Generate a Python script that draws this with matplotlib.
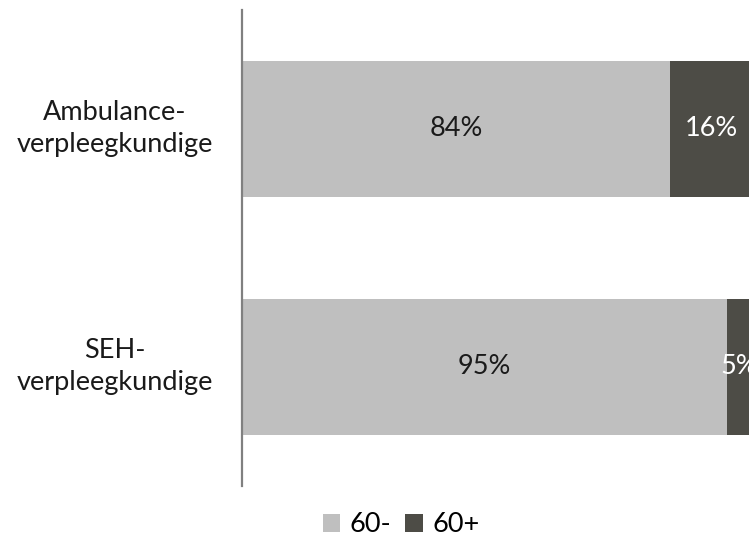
import matplotlib
matplotlib.use("Agg")
import matplotlib.pyplot as plt
import matplotlib.transforms as mtransforms
import numpy as np

# ==============================
# Data
# ==============================
categories = ["Ambulance-\nverpleegkundige", "SEH-\nverpleegkundige"]
under_60 = [84, 95]
over_60 = [16, 5]
series_labels = ["60-", "60+"]

COLOR_LIGHT = "#bfbfbf"
COLOR_DARK = "#4d4c46"
FS = 19.5

plt.rcParams["font.family"] = ["Lato", "DejaVu Sans"]

fig = plt.figure(figsize=(7.49, 5.37), dpi=100)
ax = fig.add_axes([242 / 749, 1 - 486 / 537, 510 / 749, 476 / 537])

y = np.arange(len(categories))
bar_h = 0.57

b1 = ax.barh(y, under_60, height=bar_h, color=COLOR_LIGHT, label=series_labels[0])
b2 = ax.barh(y, over_60, left=under_60, height=bar_h, color=COLOR_DARK, label=series_labels[1])

# value labels
for yi, a, b in zip(y, under_60, over_60):
    ax.text(a / 2, yi, f"{a}%", ha="center", va="center", fontsize=FS, color="#1a1a1a")
    ax.text(a + b / 2, yi, f"{b}%", ha="center", va="center", fontsize=FS, color="white")

ax.set_xlim(0, 100)
ax.set_ylim(1.5, -0.5)
ax.set_yticks(y)
ax.set_yticklabels(categories, fontsize=FS, multialignment="center",
                   linespacing=1.38, color="#1a1a1a")
ax.tick_params(axis="y", length=0, pad=21)
ax.set_xticks([])

# nudge the category labels up a little
shift = mtransforms.ScaledTranslation(0, 7 / 100, fig.dpi_scale_trans)
for lbl in ax.get_yticklabels():
    lbl.set_transform(lbl.get_transform() + shift)

for s in ["top", "right", "bottom"]:
    ax.spines[s].set_visible(False)
ax.spines["left"].set_color("#808080")
ax.spines["left"].set_linewidth(1.6)

fig.legend(handles=[b1, b2], labels=series_labels, loc="center",
           bbox_to_anchor=(401 / 749, 1 - 525 / 537), ncol=2, frameon=False,
           fontsize=FS, handlelength=0.65, handleheight=0.65,
           handletextpad=0.35, columnspacing=0.5)

plt.savefig("out.png", dpi=100)
